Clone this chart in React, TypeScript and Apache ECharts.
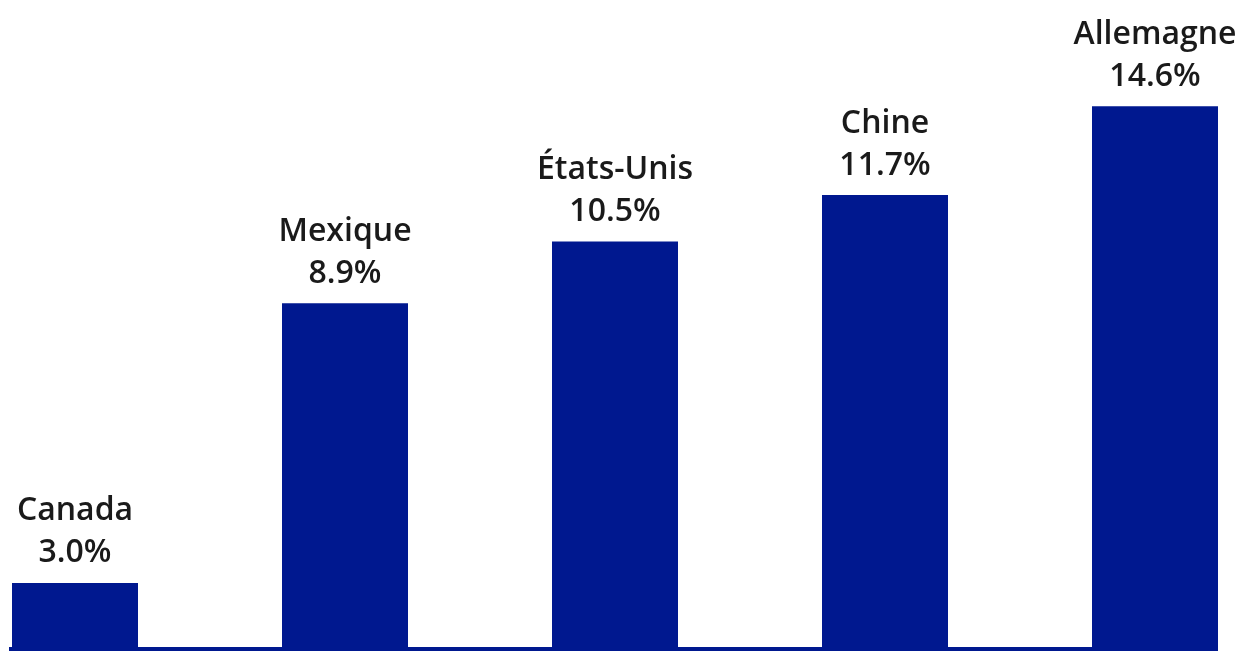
import React, { useEffect, useRef } from "react";
import * as echarts from "echarts";

const countries = ["Canada", "Mexique", "États-Unis", "Chine", "Allemagne"];
const shares = [3.0, 8.9, 10.5, 11.7, 14.6];
// bar lengths as drawn in the reference (in % units of the drawn scale)
const barHeights = [1.66, 8.9, 10.5, 11.7, 14.0];

const BAR_COLOR = "#00188f";

export default function App() {
  const ref = useRef<HTMLDivElement>(null);
  useEffect(() => {
    if (!ref.current) return;
    const chart = echarts.init(ref.current, undefined, { renderer: "svg" });
    chart.setOption({
      animation: false,
      grid: { left: 75, right: 86, top: 29, bottom: 4 },
      xAxis: {
        type: "category",
        data: countries,
        boundaryGap: false,
        axisLine: { show: false },
        axisTick: { show: false },
        axisLabel: { show: false },
        splitLine: { show: false },
      },
      yAxis: {
        type: "value",
        min: 0,
        max: 16,
        show: false,
        splitLine: { show: false },
      },
      series: [
        {
          type: "bar",
          data: barHeights,
          barWidth: 126,
          clip: false,
          itemStyle: { color: BAR_COLOR },
          label: {
            show: true,
            position: "top",
            distance: 12,
            formatter: (p: any) =>
              countries[p.dataIndex] + "\n" + shares[p.dataIndex].toFixed(1) + "%",
            fontFamily: "Open Sans",
            fontWeight: 600,
            fontSize: 32,
            lineHeight: 42,
            color: "#1a1a1a",
            align: "center",
          },
        },
      ],
      graphic: [
        {
          type: "line",
          shape: { x1: 9, y1: 649, x2: 1218, y2: 649 },
          style: { stroke: BAR_COLOR, lineWidth: 4 },
        },
      ],
    });
    return () => chart.dispose();
  }, []);
  return (
    <div
      ref={ref}
      style={{ position: "fixed", left: 0, top: 0, width: 1241, height: 651 }}
    />
  );
}
